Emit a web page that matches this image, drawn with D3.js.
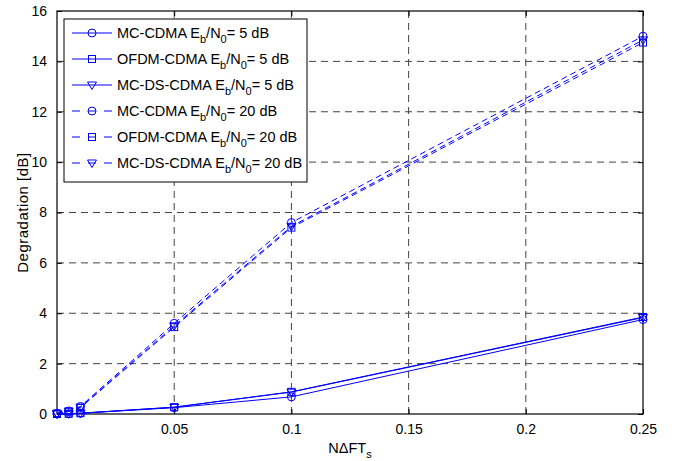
<!DOCTYPE html>
<html>
<head>
<meta charset="UTF-8">
<title>Degradation vs NΔFTs</title>
<script src="https://d3js.org/d3.v7.min.js"></script>
<style>
  body { margin: 0; background: #fff; }
  svg { display: block; font-family: Arial, "Liberation Sans", sans-serif; }
  .tick-label { font-size: 14px; fill: #000; }
  .leg-text { font-size: 14.5px; fill: #000; }
</style>
</head>
<body>
<svg id="chart"></svg>
<script>
// data
const xVals = [0, 0.005, 0.01, 0.05, 0.1, 0.25];
const mcCdma5 = [0, 0.01, 0.03, 0.25, 0.68, 3.75];
const ofdmCdma5 = [0, 0.01, 0.03, 0.27, 0.88, 3.85];
const mcDsCdma5 = [0, 0.01, 0.03, 0.27, 0.87, 3.83];
const mcCdma20 = [0.03, 0.12, 0.3, 3.6, 7.6, 15.0];
const ofdmCdma20 = [0.02, 0.1, 0.25, 3.45, 7.4, 14.75];
const mcDsCdma20 = [0.02, 0.11, 0.27, 3.5, 7.45, 14.85];

const xTicks = [0.05, 0.1, 0.15, 0.2, 0.25];
const yTicks = [0, 2, 4, 6, 8, 10, 12, 14, 16];

const seriesNames = ["MC-CDMA", "OFDM-CDMA", "MC-DS-CDMA", "MC-CDMA", "OFDM-CDMA", "MC-DS-CDMA"];
const seriesSnr = ["5", "5", "5", "20", "20", "20"];
const seriesMarker = ["circle", "square", "triangle", "circle", "square", "triangle"];
const seriesDashed = [false, false, false, true, true, true];
const seriesValues = [mcCdma5, ofdmCdma5, mcDsCdma5, mcCdma20, ofdmCdma20, mcDsCdma20];

const width = 685, height = 461;
const margin = { top: 11, right: 42, bottom: 47, left: 57 };
const blue = "#0000ff";
const dash = "6,4";

const svg = d3.select("#chart").attr("width", width).attr("height", height);
svg.append("rect").attr("width", width).attr("height", height).attr("fill", "#fff");

const x = d3.scaleLinear().domain([0, 0.25]).range([margin.left, width - margin.right]);
const y = d3.scaleLinear().domain([0, 16]).range([height - margin.bottom, margin.top]);

// grid
const grid = svg.append("g");
grid.selectAll(".gx").data(xTicks.filter(d => d < 0.25)).enter().append("line")
  .attr("x1", d => x(d)).attr("x2", d => x(d))
  .attr("y1", y(0)).attr("y2", y(16))
  .attr("stroke", "#444").attr("stroke-dasharray", "7,5");
grid.selectAll(".gy").data(yTicks.filter(d => d > 0 && d < 16)).enter().append("line")
  .attr("x1", x(0)).attr("x2", x(0.25))
  .attr("y1", d => y(d)).attr("y2", d => y(d))
  .attr("stroke", "#444").attr("stroke-dasharray", "7,5");

// axes (MATLAB style: inward ticks on all sides)
svg.append("g").attr("transform", `translate(0,${y(0)})`)
  .call(d3.axisBottom(x).tickValues(xTicks).tickSize(-5).tickPadding(10).tickFormat(d3.format("")))
  .call(g => g.select(".domain").remove());
svg.append("g").attr("transform", `translate(0,${y(16)})`)
  .call(d3.axisTop(x).tickValues(xTicks).tickSize(-5).tickFormat(""))
  .call(g => g.select(".domain").remove());
svg.append("g").attr("transform", `translate(${x(0)},0)`)
  .call(d3.axisLeft(y).tickValues(yTicks).tickSize(-5).tickPadding(10))
  .call(g => g.select(".domain").remove());
svg.append("g").attr("transform", `translate(${x(0.25)},0)`)
  .call(d3.axisRight(y).tickValues(yTicks).tickSize(-5).tickFormat(""))
  .call(g => g.select(".domain").remove());
svg.selectAll(".tick text").attr("class", "tick-label")
  .attr("font-family", null).attr("font-size", null);
svg.selectAll(".tick line").attr("stroke", "#000");

svg.append("rect")
  .attr("x", x(0)).attr("y", y(16))
  .attr("width", x(0.25) - x(0)).attr("height", y(0) - y(16))
  .attr("fill", "none").attr("stroke", "#000").attr("stroke-width", 1.2);

// lines
const line = d3.line().x((d, i) => x(xVals[i])).y(d => y(d));

function drawMarker(g, type, cx, cy) {
  if (type === "circle") {
    g.append("circle").attr("cx", cx).attr("cy", cy).attr("r", 4)
      .attr("fill", "none").attr("stroke", blue);
  } else if (type === "square") {
    g.append("rect").attr("x", cx - 3.5).attr("y", cy - 3.5).attr("width", 7).attr("height", 7)
      .attr("fill", "none").attr("stroke", blue);
  } else {
    g.append("path").attr("d", `M${cx - 4.5},${cy - 3} L${cx + 4.5},${cy - 3} L${cx},${cy + 4.5} Z`)
      .attr("fill", "none").attr("stroke", blue);
  }
}

const plot = svg.append("g");
seriesValues.forEach((vals, s) => {
  plot.append("path").datum(vals)
    .attr("d", line)
    .attr("fill", "none").attr("stroke", blue).attr("stroke-width", 1)
    .attr("stroke-dasharray", seriesDashed[s] ? dash : null);
  vals.forEach((v, i) => drawMarker(plot, seriesMarker[s], x(xVals[i]), y(v)));
});

// axis labels
svg.append("text")
  .attr("x", (x(0) + x(0.25)) / 2).attr("y", 453)
  .attr("text-anchor", "middle").attr("font-size", 14.5)
  .call(t => {
    t.append("tspan").text("NΔFT");
    t.append("tspan").attr("dy", 5).attr("font-size", 11).text("s");
  });

svg.append("text")
  .attr("transform", `translate(28,${(y(0) + y(16)) / 2}) rotate(-90)`)
  .attr("text-anchor", "middle").attr("font-size", 15).attr("letter-spacing", 0.5)
  .text("Degradation [dB]");

// legend
const legend = svg.append("g");
legend.append("rect")
  .attr("x", 64).attr("y", 19).attr("width", 243).attr("height", 163)
  .attr("fill", "#fff").attr("stroke", "#000").attr("stroke-width", 1);

seriesNames.forEach((name, s) => {
  const ry = 33 + s * 26;
  if (seriesDashed[s]) {
    legend.append("line").attr("x1", 72).attr("x2", 80).attr("y1", ry).attr("y2", ry).attr("stroke", blue);
    legend.append("line").attr("x1", 104).attr("x2", 112).attr("y1", ry).attr("y2", ry).attr("stroke", blue);
    legend.append("line").attr("x1", 88).attr("x2", 96).attr("y1", ry).attr("y2", ry).attr("stroke", blue);
  } else {
    legend.append("line").attr("x1", 72).attr("x2", 112).attr("y1", ry).attr("y2", ry).attr("stroke", blue);
  }
  drawMarker(legend, seriesMarker[s], 92, ry);
  legend.append("text").attr("class", "leg-text")
    .attr("x", 117).attr("y", ry + 5)
    .call(t => {
      t.append("tspan").text(name + " E");
      t.append("tspan").attr("dy", 5).attr("font-size", 11).text("b");
      t.append("tspan").attr("dy", -5).text("/N");
      t.append("tspan").attr("dy", 5).attr("font-size", 11).text("0");
      t.append("tspan").attr("dy", -5).text("= " + seriesSnr[s] + " dB");
    });
});
</script>
</body>
</html>
